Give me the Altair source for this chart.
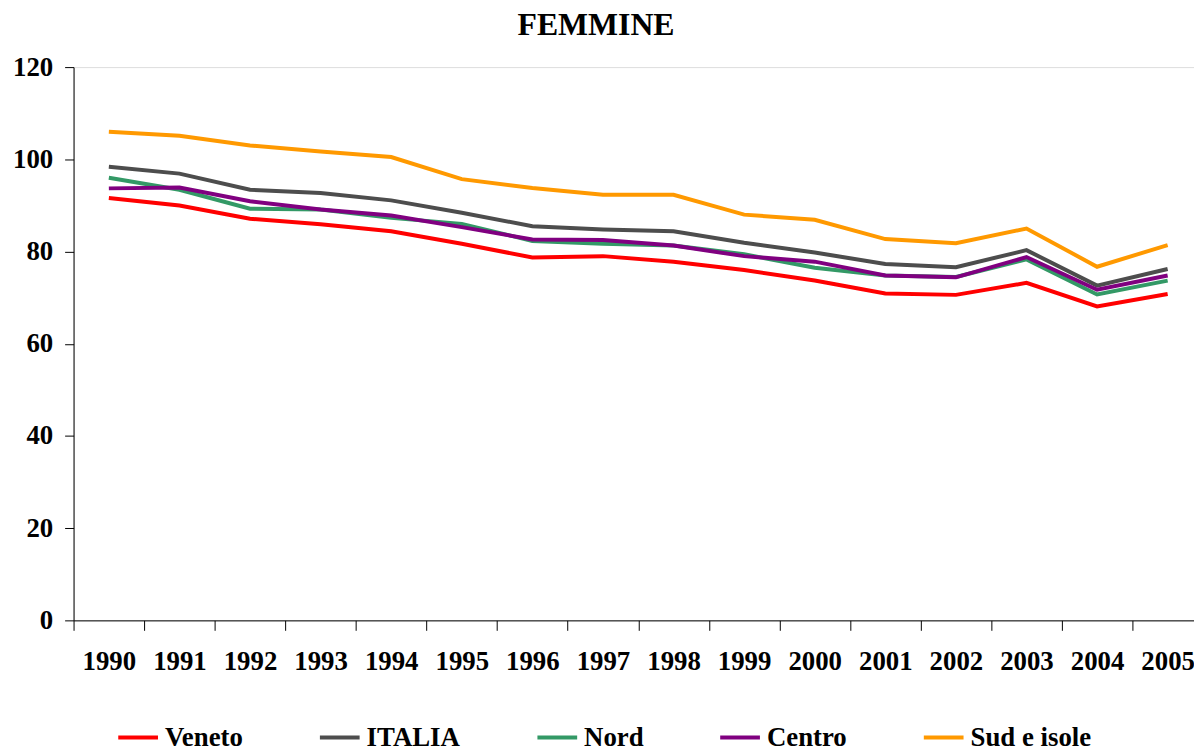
import altair as alt
import pandas as pd

years = [str(y) for y in range(1990, 2006)]
series = ["Veneto", "ITALIA", "Nord", "Centro", "Sud e isole"]
colors = ["#FF0000", "#4D4D4D", "#339966", "#800080", "#FF9900"]

veneto = [91.6, 90.0, 87.1, 85.9, 84.4, 81.7, 78.7, 79.0, 77.8, 76.0, 73.7, 70.9, 70.6, 73.2, 68.1, 70.8]
italia = [98.4, 96.9, 93.4, 92.7, 91.1, 88.4, 85.5, 84.8, 84.4, 81.9, 79.8, 77.3, 76.6, 80.3, 72.6, 76.2]
nord = [96.0, 93.4, 89.3, 89.1, 87.3, 86.0, 82.3, 81.7, 81.3, 79.4, 76.5, 74.8, 74.5, 78.3, 70.7, 73.7]
centro = [93.7, 93.9, 90.9, 89.1, 87.8, 85.3, 82.6, 82.5, 81.3, 79.0, 77.8, 74.8, 74.4, 78.8, 71.7, 74.8]
sud = [106.0, 105.1, 103.0, 101.7, 100.5, 95.7, 93.8, 92.3, 92.3, 88.0, 86.9, 82.7, 81.8, 85.0, 76.7, 81.4]

y_ticks = [0, 20, 40, 60, 80, 100, 120]

rows = []
for name, vals in zip(series, [veneto, italia, nord, centro, sud]):
    for yr, v in zip(years, vals):
        rows.append({"serie": name, "anno": yr, "valore": v})
df = pd.DataFrame(rows)

FONT = "Liberation Serif"

chart = alt.Chart(df).mark_line(strokeWidth=4).encode(
    x=alt.X(
        "anno:O",
        sort=years,
        bandPosition=0.5,
        scale=alt.Scale(type="band", range=[0, 1137], paddingInner=0, paddingOuter=0),
        axis=alt.Axis(
            title=None, labelAngle=0, tickBand="extent", tickSize=10,
            labelPadding=18, labelFont=FONT, labelFontSize=27, labelFontWeight="bold",
            labelColor="#000000", domainColor="#000000", tickColor="#000000",
            labelOverlap=False,
        ),
    ),
    y=alt.Y(
        "valore:Q",
        scale=alt.Scale(domain=[0, 120], nice=False),
        axis=alt.Axis(
            title=None, values=y_ticks, grid=False, tickSize=9, labelPadding=12,
            labelFont=FONT, labelFontSize=27, labelFontWeight="bold",
            labelColor="#000000", domainColor="#000000", tickColor="#000000",
        ),
    ),
    color=alt.Color(
        "serie:N",
        sort=series,
        scale=alt.Scale(domain=series, range=colors),
        legend=alt.Legend(
            title=None, orient="none", legendX=43, legendY=653,
            direction="horizontal", symbolType="stroke", symbolSize=1600,
            symbolStrokeWidth=4, labelFont=FONT, labelFontSize=27,
            labelFontWeight="bold", labelColor="#000000", columnPadding=69,
            labelOffset=5, padding=0, labelLimit=300,
        ),
    ),
).properties(
    width=1128,
    height=557,
    title=alt.TitleParams(
        "FEMMINE", font=FONT, fontSize=32, fontWeight="bold", color="#000000",
        anchor="middle", offset=11, dx=-38,
    ),
    autosize=alt.AutoSizeParams(type="none"),
    padding={"left": 66, "top": 57, "right": 0, "bottom": 129},
).configure_view(stroke=None).configure(background="white")

chart.save("out.html", embed_options={"renderer": "svg", "actions": False})
